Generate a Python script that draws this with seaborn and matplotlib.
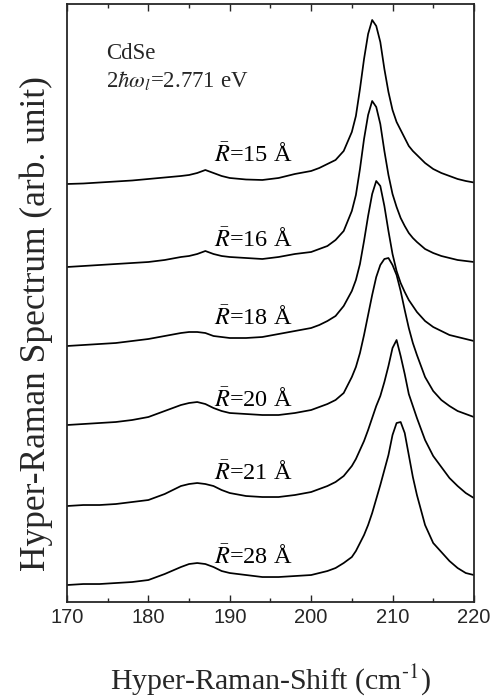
import numpy as np
import pandas as pd
import matplotlib
matplotlib.use("Agg")
import matplotlib.pyplot as plt
from matplotlib.ticker import MultipleLocator
import seaborn as sns

# Raman shift grid (cm^-1)
shift = [170, 172, 174, 176, 178, 180, 182, 184, 185, 186, 187, 188, 189, 190,
         192, 194, 196, 198, 200, 201, 202, 203, 204, 205, 205.5, 206, 206.5,
         207, 207.5, 208, 208.5, 209, 209.5, 210, 210.5, 211, 211.5, 212, 212.5,
         213, 214, 215, 216, 217, 218, 219, 220]

# Hyper-Raman intensities (arb. unit) for each mean radius
spec_r15 = [0, 0.5, 1.5, 2.5, 3.5, 5, 6.5, 8, 9, 11, 14, 11, 8, 6,
            4.5, 4, 6, 10, 13, 16, 20, 24, 33, 52, 68, 95, 125,
            150, 164, 158, 142, 115, 92, 74, 62, 54, 46, 38, 33,
            29, 21, 15, 11, 8, 5, 3, 1.5]
spec_r16 = [0, 1, 2, 3, 4, 5, 7, 10, 11, 13, 16, 13, 11, 10,
            9, 8, 10, 13, 15, 18, 21, 27, 36, 56, 72, 98, 128,
            152, 166, 160, 143, 116, 92, 73, 60, 49, 41, 34, 29,
            25, 18, 14, 11, 9, 7, 6, 5]
spec_r18 = [0, 1, 2, 3, 5, 7, 10, 13, 14, 14, 13, 10, 9, 8,
            8, 9, 12, 15, 18, 21, 25, 30, 40, 55, 66, 82, 105,
            130, 152, 165, 160, 140, 115, 92, 75, 63, 54, 46, 40,
            34, 25, 19, 15, 11, 9, 7, 5]
spec_r20 = [0, 1, 2, 3, 5, 8, 14, 20, 22, 23, 21, 17, 14, 12,
            11, 10, 10, 12, 15, 18, 21, 25, 32, 48, 58, 72, 90,
            110, 130, 148, 160, 166, 167, 160, 150, 134, 115, 97, 82,
            70, 48, 34, 25, 19, 14, 11, 8]
spec_r21 = [0, 1, 1, 2, 4, 6, 12, 20, 22, 23, 22, 20, 16, 13,
            10, 9, 9, 11, 14, 17, 20, 24, 30, 40, 47, 56, 65,
            76, 88, 100, 110, 124, 140, 158, 166, 150, 132, 112, 100,
            88, 66, 50, 39, 28, 20, 13, 8]
spec_r28 = [0, 1, 1, 2, 3, 5, 11, 18, 21, 22, 21, 18, 14, 12,
            10, 8, 8, 9, 10, 12, 14, 17, 22, 28, 34, 42, 50,
            60, 72, 86, 100, 115, 130, 150, 162, 163, 152, 130, 108,
            90, 60, 42, 33, 24, 17, 12, 10]

radii = [15, 16, 18, 20, 21, 28]
offsets = [418, 335, 256, 177, 96, 17]
spectra = [spec_r15, spec_r16, spec_r18, spec_r20, spec_r21, spec_r28]
label_y = [447, 362, 284, 202, 129, 45]

xticks = [170, 180, 190, 200, 210, 220]

sns.set_style("ticks")
plt.rcParams["font.family"] = ["Liberation Serif", "DejaVu Serif"]
plt.rcParams["mathtext.fontset"] = "stix"

fig = plt.figure(figsize=(5.02, 6.98), dpi=100)
ax = fig.add_axes([0.1335, 0.1375, 0.8105, 0.8568])

frames = []
for r, off, spec in zip(radii, offsets, spectra):
    frames.append(pd.DataFrame({
        "shift": shift,
        "signal": np.asarray(spec, dtype=float) + off,
        "radius": r,
    }))
df = pd.concat(frames, ignore_index=True)

sns.lineplot(data=df, x="shift", y="signal", units="radius", estimator=None,
             color="black", linewidth=1.25, ax=ax, legend=False)

for r, y in zip(radii, label_y):
    ax.text(192.9, y, r"$\bar{R}$" + f"={r} Å", ha="center", va="center",
            fontsize=17.5, color="black")

ax.text(174.8, 548, "CdSe", fontsize=16.5, ha="left", va="center")
ax.text(174.8, 521, r"2$\hbar\omega_l$=2.771 eV", fontsize=16.5,
        ha="left", va="center")

ax.set_xlim(170, 220)
ax.set_ylim(0, 598)
ax.set_xticks(xticks)
ax.set_xticklabels([str(t) for t in xticks], family="Liberation Sans",
                   fontsize=14.5)
ax.xaxis.set_minor_locator(MultipleLocator(5))
ax.set_yticks([])
ax.tick_params(axis="x", which="both", direction="in", top=True, bottom=True,
               width=1.0, pad=4)
ax.tick_params(axis="x", which="major", length=5)
ax.tick_params(axis="x", which="minor", length=3)
for s in ax.spines.values():
    s.set_linewidth(1.3)
    s.set_visible(True)

xl = ax.set_xlabel(r"Hyper-Raman-Shift (cm$^{\text{-1}}$)", fontsize=21.5)
xl.set_verticalalignment("baseline")
ax.xaxis.set_label_coords(0.5, -0.1445)

yl = ax.set_ylabel("Hyper-Raman Spectrum (arb. unit)", fontsize=25.5)
yl.set_verticalalignment("center")
ax.yaxis.set_label_coords(-0.076, 0.465)

fig.savefig("out.png", dpi=100)
